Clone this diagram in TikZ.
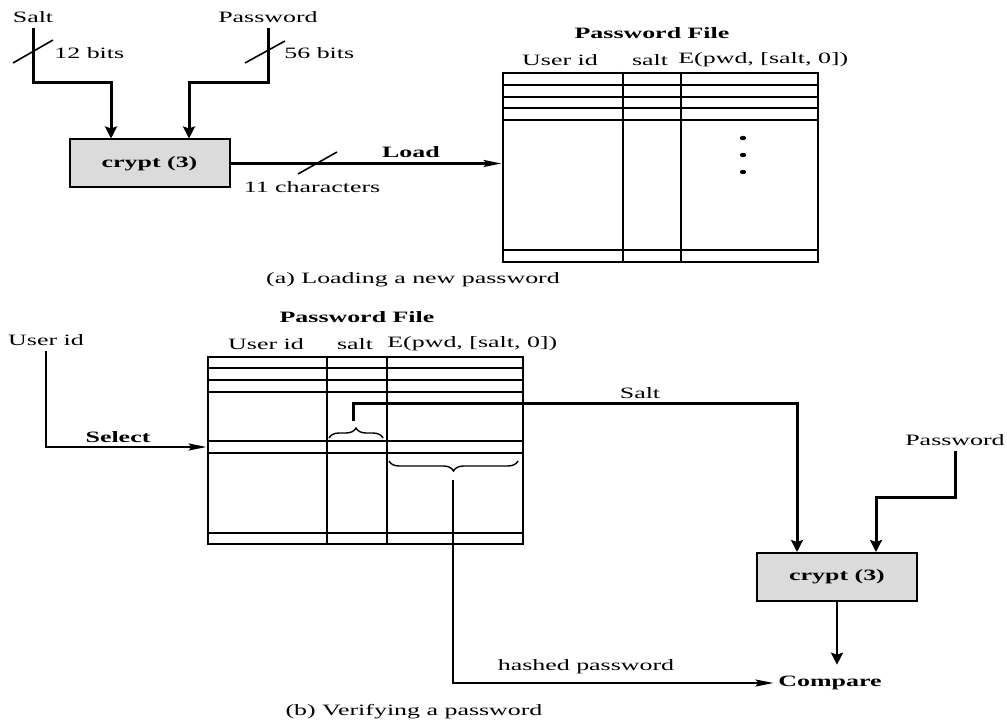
\documentclass[tikz,border=0pt]{standalone}
\usepackage{fontspec}
\setmainfont{Liberation Serif}[FakeStretch=1.64]
\usetikzlibrary{arrows.meta,decorations.pathreplacing}

\begin{document}
\begin{tikzpicture}[
  x=0.5pt, y=-0.5pt,
  txt/.style={inner sep=0pt, font=\fontsize{7.9pt}{9pt}\selectfont},
  btxt/.style={inner sep=0pt, font=\fontsize{7.9pt}{9pt}\selectfont\bfseries},
  cryptbox/.style={draw, line width=1pt, fill=black!14, minimum width=80pt, minimum height=24pt, inner sep=0pt, font=\fontsize{7.9pt}{9pt}\selectfont\bfseries},
  filebox/.style={draw, line width=1.4pt, minimum width=157.5pt, inner sep=0pt},
  rowline/.style={line width=0.6pt},
  colline/.style={line width=0.9pt},
  busmark/.style={line width=0.8pt},
  inarrow/.style={-{Stealth[length=6pt, width=6pt, inset=1pt]}, line width=1.5pt},
  varrow/.style={-{Stealth[length=6pt, width=6pt, inset=1pt]}, line width=1.3pt},
  harrow/.style={-{Stealth[length=9pt, width=3.5pt, inset=1.5pt]}, line width=1.1pt},
  pick/.style={decorate, decoration={brace, amplitude=5pt}, line width=0.7pt}
]
\useasboundingbox (0,0) rectangle (1007,721);

\node[txt] (saltA) at (33,17) {Salt};
\node[txt] (pwA) at (268,17) {Password};
\node[cryptbox] (cryptA) at (149.5,163.5) {crypt (3)};
\node[filebox, minimum height=94.5pt] (fileA) at (660.5,167.5) {};

\draw[inarrow, shorten <=2.5pt] (saltA.south) -- ++(0,60) -| ([xshift=-19.25pt]cryptA.north);
\draw[inarrow, shorten <=2.5pt] (pwA.south) -- ++(0,60) -| ([xshift=19.75pt]cryptA.north);
\draw[busmark] (13,63) -- (53,40);
\draw[busmark] (245,63) -- (285,41);
\node[txt, anchor=west] (bitsS) at (54,53) {12 bits};
\node[txt, anchor=west] (bitsP) at (284,53) {56 bits};

\draw[harrow] (cryptA.east) -- (cryptA.east -| fileA.west);
\draw[busmark] (298,174) -- (337,152);
\node[btxt] (loadA) at (411,152) {Load};
\node[txt] (charsA) at (312,187) {11 characters};

\node[btxt] (titleA) at (652,33) {Password File};
\node[txt] (uidA) at (560,60) {User id};
\node[txt] (colsaltA) at (650,60) {salt};
\node[txt, anchor=west] (encA) at (678,60) {E(pwd, [salt, 0])};
\foreach \r in {85,97,108,120,250}
  \draw[rowline] (fileA.west |- 0,\r) -- (fileA.east |- 0,\r);
\foreach \c in {623,681}
  \draw[colline] (\c,0 |- fileA.north) -- (\c,0 |- fileA.south);
\foreach \d in {138,155,172}
  \fill (743,\d) ellipse[x radius=1.6pt, y radius=1.1pt];
\node[txt] (capA) at (413,280) {(a) Loading a new password};

\node[btxt] (titleB) at (357,317) {Password File};
\node[txt] (uidB) at (266,344) {User id};
\node[txt] (colsaltB) at (355,344) {salt};
\node[txt, anchor=west] (encB) at (387,344) {E(pwd, [salt, 0])};
\node[filebox, minimum height=93.5pt] (fileB) at (365.5,450.5) {};
\foreach \r in {368,380,392,441,453,533}
  \draw[rowline] (fileB.west |- 0,\r) -- (fileB.east |- 0,\r);
\foreach \c in {327,387}
  \draw[colline] (\c,0 |- fileB.north) -- (\c,0 |- fileB.south);

\node[txt] (userB) at (46,340) {User id};
\draw[harrow, shorten <=2.5pt] (userB.south) |- ([yshift=1.75pt]fileB.west);
\node[btxt] (selB) at (118,437) {Select};

\draw[pick] (329,438) -- (383,438);
\draw[pick] (518,461) -- (389,461);
\coordinate (saltpick) at (353,421);
\coordinate (hashpick) at (453,480);

\node[cryptbox] (cryptB) at (837,577) {crypt (3)};
\node[txt] (saltB) at (640,393) {Salt};
\node[txt] (pwB) at (955,440) {Password};
\node[btxt] (cmpB) at (830,683) {Compare};
\node[txt] (hashB) at (586,667) {hashed password};

\draw[inarrow] (saltpick) -- ++(0,-17) -| ([xshift=-20pt]cryptB.north);
\draw[inarrow, shorten <=2.5pt] (pwB.south) -- ++(0,52) -| ([xshift=19.5pt]cryptB.north);
\draw[varrow, shorten >=5.5pt] (cryptB.south) -- (cryptB.south |- cmpB.north);
\draw[harrow, shorten >=2.25pt] (hashpick) |- (cmpB.west);
\node[txt] (capB) at (414,712) {(b) Verifying a password};
\end{tikzpicture}
\end{document}
